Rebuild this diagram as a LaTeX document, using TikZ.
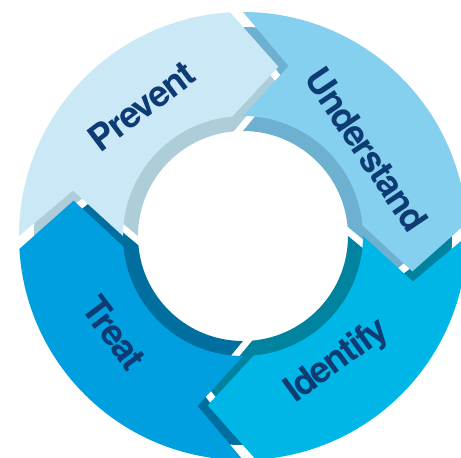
\documentclass[tikz,border=0pt]{standalone}
\usepackage{fontspec}
\newfontfamily\cyclefont[LetterSpace=-4]{TeX Gyre Heros}

\definecolor{prevent}{HTML}{CBE8F7}
\definecolor{preventside}{HTML}{ADCDD9}
\definecolor{understand}{HTML}{86D0EF}
\definecolor{understandside}{HTML}{6DB0CF}
\definecolor{identify}{HTML}{00B6E6}
\definecolor{identifyside}{HTML}{00839F}
\definecolor{treat}{HTML}{009FDF}
\definecolor{treatside}{HTML}{006E9E}
\definecolor{ink}{HTML}{0D3B74}

% one arrow piece of the ring: #1 tail angle, #2 inset towards the centre, #3 colour
\newcommand{\cyclepiece}[3]{
	\pgfmathsetmacro{\outr}{224-#2}
	\pgfmathsetmacro{\innr}{120-#2}
	\pgfmathsetmacro{\tipr}{173-#2}
	\pgfmathsetmacro{\notchr}{176-#2}
	\fill[#3] (#1:\outr pt) arc[start angle=#1, end angle=#1-86.7, radius=\outr pt]
		-- (#1-101.8:\tipr pt) -- (#1-84.9:\innr pt)
		arc[start angle=#1-84.9, end angle=#1, radius=\innr pt]
		-- (#1-15:\notchr pt) -- cycle;
}

\begin{document}
\begin{tikzpicture}[word/.style={font=\cyclefont\bfseries\fontsize{36}{36}\selectfont, text=ink, inner sep=0pt}]
\clip (-243pt,-222pt) rectangle (218pt,236pt);

\foreach \t/\c in {180/preventside,90/understandside,0/identifyside,-90/treatside} {
	\cyclepiece{\t}{15}{\c}
}
\foreach \t/\c in {180/prevent,90/understand,0/identify,-90/treat} {
	\cyclepiece{\t}{0}{\c}
}

\node[word, rotate=37] (prevent) at (128:165pt) {Prevent};
\node[word, rotate=-56] (understand) at (35:151pt) {Understand};
\node[word, rotate=36] (identify) at (-53:157pt) {Identify};
\node[word, rotate=-53] (treat) at (217:161pt) {Treat};
\end{tikzpicture}
\end{document}
